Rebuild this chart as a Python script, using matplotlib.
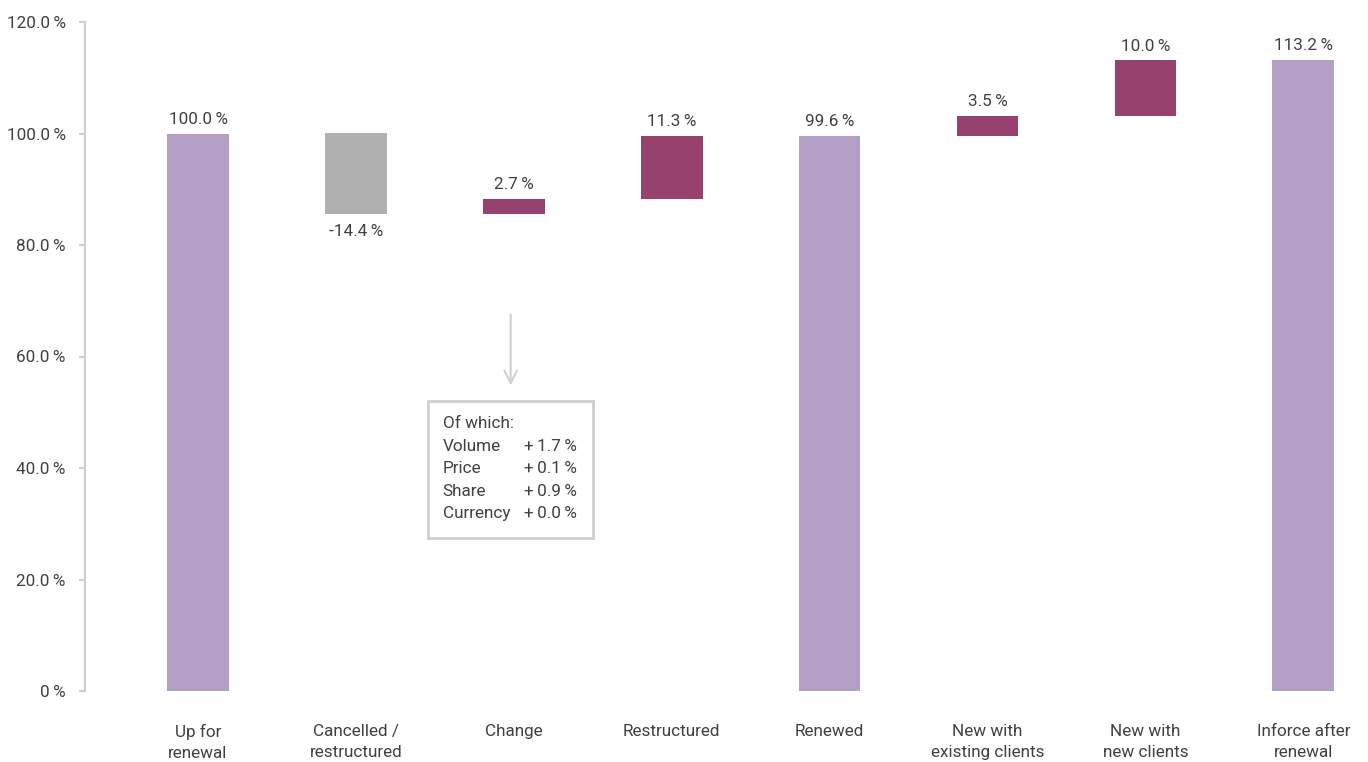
import matplotlib
matplotlib.use("Agg")
import matplotlib.pyplot as plt
from matplotlib.patches import Rectangle

plt.rcParams['font.family'] = ['Roboto', 'DejaVu Sans']

# data
categories = ["Up for\nrenewal", "Cancelled /\nrestructured", "Change", "Restructured",
              "Renewed", "New with\nexisting clients", "New with\nnew clients", "Inforce after\nrenewal"]
values = [100.0, -14.4, 2.7, 11.3, 99.6, 3.5, 10.0, 113.2]
is_total = [True, False, False, False, True, False, False, True]
breakdown_names = ["Volume", "Price", "Share", "Currency"]
breakdown_values = [1.7, 0.1, 0.9, 0.0]
y_ticks = [0, 20, 40, 60, 80, 100, 120]

c_total = "#b4a0c6"
c_pos = "#97426e"
c_neg = "#b0b0b0"
c_text = "#404040"
c_line = "#cfcfcf"
TS = "\u2009"
FS = 12.3

fig = plt.figure(figsize=(13.68, 7.62), dpi=100)
ax = fig.add_axes([85 / 1368, 71 / 762, 1 - 85 / 1368, (691 - 22) / 762])

running = 0.0
for i, (v, tot) in enumerate(zip(values, is_total)):
    if tot:
        bottom, h = 0.0, v
        running = v
        col = c_total
    else:
        if v < 0:
            bottom, h = running + v, -v
            col = c_neg
        else:
            bottom, h = running, v
            col = c_pos
        running += v
    ax.bar(i, h, bottom=bottom, width=0.39, color=col, zorder=2)
    lab = f"{v:.1f}{TS}%"
    if v >= 0:
        ax.annotate(lab, (i, bottom + h), xytext=(0, 5), textcoords="offset points",
                    ha="center", va="bottom", fontsize=FS, color=c_text)
    else:
        ax.annotate(lab, (i, bottom), xytext=(0, -7), textcoords="offset points",
                    ha="center", va="top", fontsize=FS, color=c_text)

ax.set_xlim(-0.716, 7.41)
ax.set_ylim(0, 120)
ax.set_yticks(y_ticks)
ax.set_yticklabels([f"0{TS}%" if t == 0 else f"{t:.1f}{TS}%" for t in y_ticks],
                   fontsize=FS, color=c_text)
ax.tick_params(axis="y", length=4, width=1.5, color=c_line, pad=10)
ax.set_xticks(range(len(categories)))
ax.set_xticklabels(categories, fontsize=FS, color=c_text, linespacing=1.45)
ax.tick_params(axis="x", length=0, pad=24)
for s in ["top", "right", "bottom"]:
    ax.spines[s].set_visible(False)
ax.spines["left"].set_color(c_line)
ax.spines["left"].set_linewidth(1.5)

# arrow from Change bar to breakdown box
ax.annotate("", xy=(1.98, 54.3), xytext=(1.98, 68.0),
            arrowprops=dict(arrowstyle="->,head_length=0.9,head_width=0.45",
                            color=c_line, lw=1.5))

# breakdown box
ax.add_patch(Rectangle((1.458, 27.4), 2.503 - 1.458, 52.0 - 27.4, fill=False,
                       edgecolor=c_line, lw=2, zorder=3))
ax.text(1.55, 47.9, "Of which:", fontsize=FS, color=c_text, va="center")
for k, (n, bv) in enumerate(zip(breakdown_names, breakdown_values)):
    yy = 43.9 - k * 4.05
    ax.text(1.55, yy, n, fontsize=FS, color=c_text, va="center")
    ax.text(2.40, yy, f"+{TS}{bv:.1f}{TS}%", fontsize=FS, color=c_text,
            va="center", ha="right")

fig.savefig("out.png", dpi=100)
